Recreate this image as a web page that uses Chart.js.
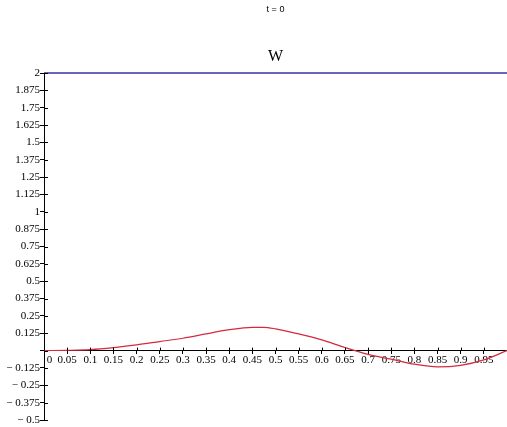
<!DOCTYPE html>
<html>
<head>
<meta charset="utf-8">
<script src="https://cdn.jsdelivr.net/npm/chart.js@4/dist/chart.umd.min.js"></script>
<style>
  html, body { margin: 0; padding: 0; background: #ffffff; }
  canvas { display: block; }
</style>
</head>
<body>
<canvas id="c" width="507" height="427"></canvas>
<script>
// ---- data ----
const xValues = [0, 0.05, 0.1, 0.15, 0.2, 0.25, 0.3, 0.35, 0.4, 0.45, 0.475, 0.5, 0.55, 0.6, 0.65, 0.7, 0.75, 0.8, 0.85, 0.9, 0.95, 1];
const wValues = [0, 0.002, 0.007, 0.021, 0.041, 0.065, 0.089, 0.12, 0.151, 0.168, 0.168, 0.157, 0.12, 0.077, 0.022, -0.027, -0.062, -0.098, -0.117, -0.106, -0.067, 0];
const limitX = [0, 1];
const limitY = [2, 2];
const xTickStep = 0.05;
const yTickStep = 0.125;
const xRange = [0, 1];
const yRange = [-0.5, 2];
const topTitle = 't = 0';
const chartTitle = 'W';

const toPts = (xs, ys) => xs.map((x, i) => ({ x: x, y: ys[i] }));
const fmt = v => Number(v.toFixed(4)).toString();

const innerTicks = {
  id: 'innerTicks',
  afterDraw(chart) {
    const ctx = chart.ctx;
    const xs = chart.scales.x, ys = chart.scales.y;
    const x0 = chart.chartArea.left;
    const y0 = ys.getPixelForValue(0);
    ctx.save();
    ctx.strokeStyle = '#000';
    ctx.lineWidth = 1;
    ctx.beginPath();
    ys.ticks.forEach(t => {
      const py = Math.round(ys.getPixelForValue(t.value)) + 0.5;
      ctx.moveTo(x0, py);
      ctx.lineTo(x0 + 4, py);
    });
    xs.ticks.forEach(t => {
      const px = Math.round(xs.getPixelForValue(t.value)) + 0.5;
      ctx.moveTo(px, y0);
      ctx.lineTo(px, y0 - 3);
    });
    ctx.stroke();
    ctx.restore();
  }
};

new Chart(document.getElementById('c'), {
  type: 'line',
  data: {
    datasets: [
      {
        data: toPts(limitX, limitY),
        borderColor: '#3a30a8',
        borderWidth: 1.5,
        pointRadius: 0,
        tension: 0,
        clip: false
      },
      {
        data: toPts(xValues, wValues),
        borderColor: '#d42a40',
        borderWidth: 1.2,
        pointRadius: 0,
        cubicInterpolationMode: 'monotone'
      }
    ]
  },
  options: {
    responsive: false,
    animation: false,
    devicePixelRatio: 1,
    layout: { padding: { left: 0, right: 0, top: 0, bottom: 7 } },
    plugins: {
      legend: { display: false },
      tooltip: { enabled: false },
      title: {
        display: true,
        text: topTitle,
        fullSize: false,
        color: '#000',
        font: { family: 'Liberation Sans', size: 9, weight: 'normal', lineHeight: 1.2 },
        padding: { top: 4, bottom: 32 }
      },
      subtitle: {
        display: true,
        text: chartTitle,
        fullSize: false,
        color: '#000',
        font: { family: 'Liberation Serif', size: 16, weight: 'normal', lineHeight: 1.2 },
        padding: { top: 0, bottom: 7 }
      }
    },
    scales: {
      x: {
        type: 'linear',
        position: { y: 0 },
        min: xRange[0],
        max: xRange[1],
        afterFit: s => { s.height = 0; s.paddingLeft = 0; s.paddingRight = 0; },
        grid: { drawOnChartArea: false, drawTicks: true, tickLength: 3, color: '#000' },
        border: { display: true, color: '#000', width: 1 },
        ticks: {
          stepSize: xTickStep,
          autoSkip: false,
          maxRotation: 0,
          minRotation: 0,
          padding: 0,
          color: '#000',
          font: { family: 'Liberation Serif', size: 11 },
          callback: v => {
            if (v === 0) return '    0';
            if (v >= 1) return '';
            return fmt(v);
          }
        }
      },
      y: {
        type: 'linear',
        min: yRange[0],
        max: yRange[1],
        afterFit: s => { s.width = 44; },
        grid: { drawOnChartArea: false, drawTicks: true, tickLength: 4, color: '#000' },
        border: { display: true, color: '#000', width: 1 },
        ticks: {
          stepSize: yTickStep,
          autoSkip: false,
          padding: 0,
          color: '#000',
          font: { family: 'Liberation Serif', size: 11 },
          callback: v => {
            if (Math.abs(v) < 1e-9) return '';
            if (v < 0) return '\u2212 ' + fmt(-v);
            return fmt(v);
          }
        }
      }
    }
  },
  plugins: [innerTicks]
});
</script>
</body>
</html>
